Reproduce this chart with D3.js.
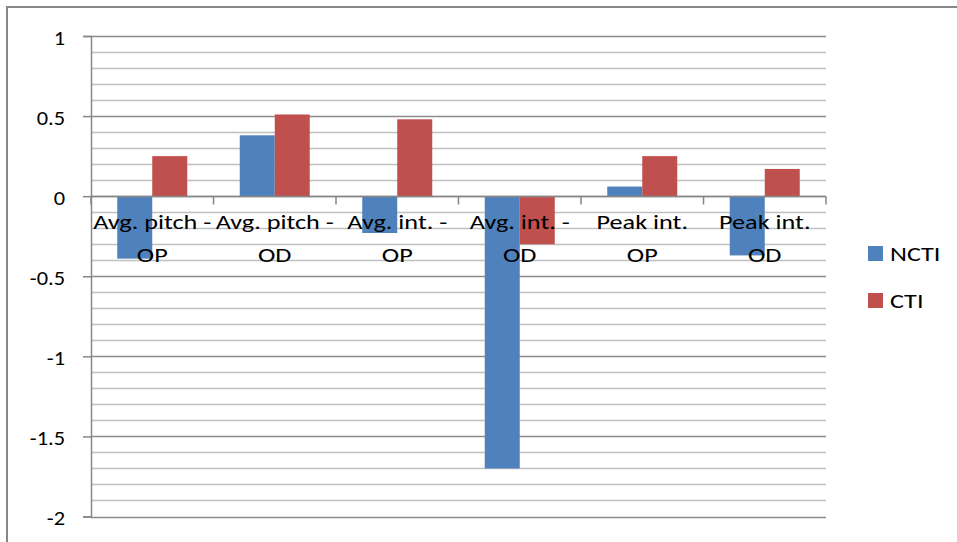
<!DOCTYPE html>
<html>
<head>
<meta charset="utf-8">
<script src="https://cdn.jsdelivr.net/npm/d3@7"></script>
<style>
  html, body { margin: 0; padding: 0; background: #fff; }
  svg { display: block; }
  text { font-family: Carlito, Lato, "Open Sans", sans-serif; fill: #000; }
</style>
</head>
<body>
<svg id="chart" width="957" height="542"></svg>
<script>
// Chart data
const categories = ["Avg. pitch - OP", "Avg. pitch - OD", "Avg. int. - OP", "Avg. int. - OD", "Peak int. OP", "Peak int. OD"];
const seriesNames = ["NCTI", "CTI"];
const ncti = [-0.39, 0.38, -0.23, -1.70, 0.06, -0.37];
const cti = [0.25, 0.51, 0.48, -0.30, 0.25, 0.17];
const yTicks = [1, 0.5, 0, -0.5, -1, -1.5, -2];
const colors = ["#4f81bd", "#c0504d"];

const rows = categories.map((c, i) => ({ category: c, values: [ncti[i], cti[i]] }));

const svg = d3.select("#chart");
const plotLeft = 91, plotRight = 826, plotTop = 36, plotBottom = 516.5;
const stretch = 1.25;      // horizontal widening of label text
const tickStretch = 1.12;  // horizontal widening of the numeric tick labels

// Outer chart frame
svg.append("rect")
  .attr("x", 7).attr("y", 7).attr("width", 980).attr("height", 560)
  .attr("fill", "none").attr("stroke", "#878787").attr("stroke-width", 2);

const y = d3.scaleLinear().domain([-2, 1]).range([plotBottom, plotTop]);
const x0 = d3.scaleBand().domain(categories).range([plotLeft, plotRight])
  .paddingInner(0.4286).paddingOuter(0.2143);
const x1 = d3.scaleBand().domain(seriesNames).range([0, x0.bandwidth()]);
const step = x0.step();

// Gridlines: minor every 0.1, major every 0.5
const minor = d3.range(-20, 11).map(d => d / 10).filter(d => Math.abs(d * 2 - Math.round(d * 2)) > 1e-6);
svg.append("g").selectAll("line").data(minor).join("line")
  .attr("x1", plotLeft).attr("x2", plotRight)
  .attr("y1", d => Math.round(y(d)) + 0.5).attr("y2", d => Math.round(y(d)) + 0.5)
  .attr("stroke", "#c0c0c0").attr("stroke-width", 1.5);
svg.append("g").selectAll("line").data(yTicks).join("line")
  .attr("x1", plotLeft).attr("x2", plotRight)
  .attr("y1", d => Math.round(y(d)) + 0.5).attr("y2", d => Math.round(y(d)) + 0.5)
  .attr("stroke", "#8c8c8c").attr("stroke-width", 1.5);

// Bars
const groups = svg.append("g").selectAll("g").data(rows).join("g")
  .attr("transform", d => `translate(${x0(d.category)},0)`);
groups.selectAll("rect").data(d => d.values.map((v, i) => ({ key: seriesNames[i], v, i })))
  .join("rect")
  .attr("x", d => x1(d.key))
  .attr("width", x1.bandwidth())
  .attr("y", d => y(Math.max(0, d.v)))
  .attr("height", d => Math.abs(y(d.v) - y(0)))
  .attr("fill", d => colors[d.i]);

// Vertical axis with ticks to the left
const tickGap = 26;
const yAxis = svg.append("g").attr("transform", `translate(${plotLeft},0)`)
  .call(d3.axisLeft(y).tickValues(yTicks).tickSize(8).tickPadding(tickGap - 8)
    .tickFormat(d => String(d)));
yAxis.select(".domain").attr("stroke", "#878787").attr("stroke-width", 1.5);
yAxis.selectAll(".tick line").attr("stroke", "#878787").attr("stroke-width", 1.5);
yAxis.selectAll(".tick text")
  .attr("font-size", 20).attr("fill", "#000")
  .attr("x", -tickGap / tickStretch).attr("dy", 8)
  .attr("transform", `scale(${tickStretch},1)`)
  .style("font-family", "Carlito, Lato, 'Open Sans', sans-serif");

// Horizontal axis along zero with category boundary ticks
const y0 = Math.round(y(0)) + 0.5;
svg.append("line").attr("x1", plotLeft).attr("x2", plotRight).attr("y1", y0).attr("y2", y0)
  .attr("stroke", "#878787").attr("stroke-width", 1.5);
const boundaries = d3.range(categories.length + 1).map(i => plotLeft + i * step);
svg.append("g").selectAll("line").data(boundaries).join("line")
  .attr("x1", d => d).attr("x2", d => d).attr("y1", y0).attr("y2", y0 + 8)
  .attr("stroke", "#878787").attr("stroke-width", 1.5);

// Category labels, wrapped onto two lines
const labels = svg.append("g").selectAll("text").data(categories).join("text")
  .attr("text-anchor", "middle").attr("font-size", 21)
  .attr("transform", d => `translate(${x0(d) + x0.bandwidth() / 2},0) scale(${stretch},1)`);
labels.each(function (d) {
  const cut = d.lastIndexOf(" ");
  const lines = [d.slice(0, cut), d.slice(cut + 1)];
  const t = d3.select(this);
  lines.forEach((ln, i) => {
    t.append("tspan").attr("x", 0).attr("y", 229.5 + i * 33).text(ln);
  });
});

// Legend
const legend = svg.append("g").selectAll("g").data(seriesNames).join("g")
  .attr("transform", (d, i) => `translate(868,${246 + i * 47})`);
legend.append("rect").attr("width", 15).attr("height", 15)
  .attr("fill", (d, i) => colors[i]);
legend.append("text").attr("font-size", 21)
  .attr("transform", `translate(22,15) scale(${stretch},1)`).text(d => d);
</script>
</body>
</html>
